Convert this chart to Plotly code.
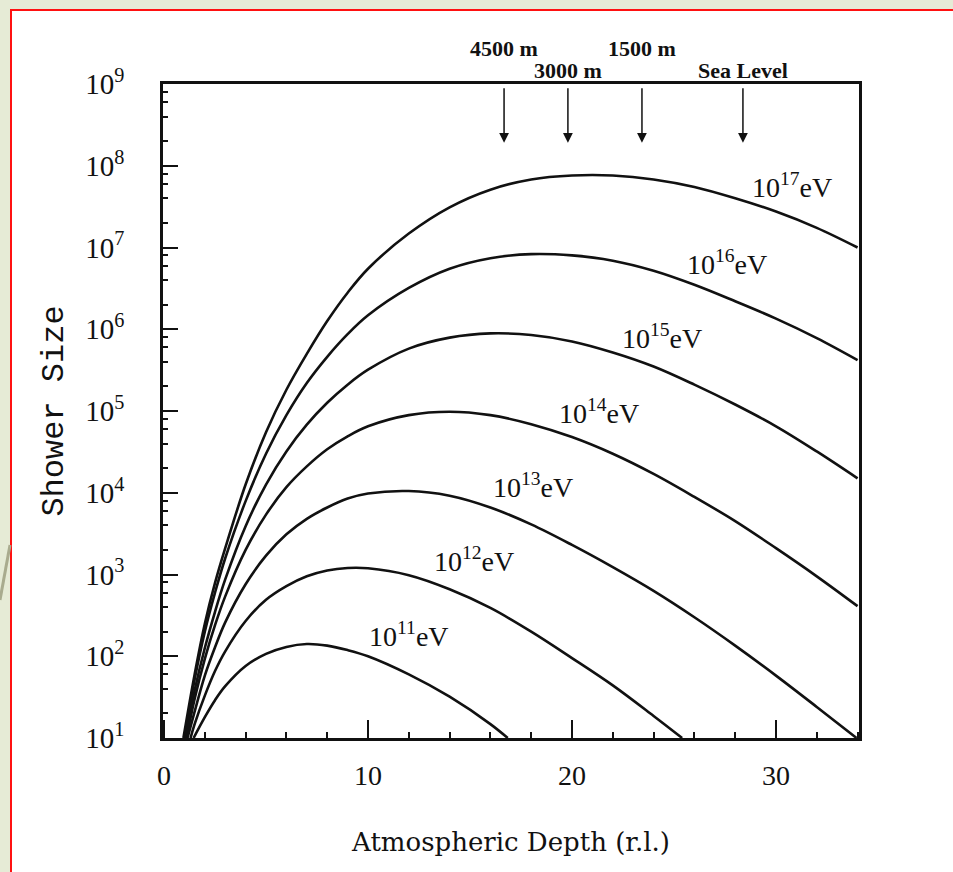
import plotly.graph_objects as go

# ---------------- data ----------------
energy_labels = ["10<sup>17</sup>eV", "10<sup>16</sup>eV", "10<sup>15</sup>eV",
                 "10<sup>14</sup>eV", "10<sup>13</sup>eV", "10<sup>12</sup>eV",
                 "10<sup>11</sup>eV"]

depth_e17 = [0.95, 1.5, 2, 2.5, 3, 4, 5, 6, 7, 8, 9, 10, 12, 14, 16, 18, 20, 22, 24, 26, 28, 30, 32, 34]
size_e17 = [1.0e1, 6.0e1, 2.5e2, 7.9e2, 2.1e3, 1.26e4, 5.5e4, 1.82e5, 5.0e5, 1.26e6, 2.8e6, 5.5e6,
            1.48e7, 3.1e7, 5.1e7, 6.8e7, 7.6e7, 7.6e7, 6.8e7, 5.5e7, 4.0e7, 2.75e7, 1.74e7, 1.0e7]

depth_e16 = [1.0, 1.5, 2, 2.5, 3, 4, 5, 6, 7, 8, 9, 10, 12, 14, 16, 18, 20, 22, 24, 26, 28, 30, 32, 34]
size_e16 = [1.0e1, 5.2e1, 2.0e2, 6.0e2, 1.58e3, 7.9e3, 3.0e4, 8.9e4, 2.2e5, 4.6e5, 8.7e5, 1.48e6,
            3.2e6, 5.5e6, 7.4e6, 8.3e6, 8.0e6, 6.9e6, 5.2e6, 3.5e6, 2.2e6, 1.35e6, 7.8e5, 4.2e5]

depth_e15 = [1.05, 1.5, 2, 2.5, 3, 4, 5, 6, 7, 8, 9, 10, 12, 14, 16, 18, 20, 22, 24, 26, 28, 30, 32, 34]
size_e15 = [1.0e1, 3.8e1, 1.26e2, 3.5e2, 8.7e2, 3.9e3, 1.26e4, 3.2e4, 6.8e4, 1.26e5, 2.1e5, 3.2e5,
            5.8e5, 7.9e5, 8.9e5, 8.5e5, 7.1e5, 5.2e5, 3.5e5, 2.1e5, 1.2e5, 6.5e4, 3.2e4, 1.5e4]

depth_e14 = [1.1, 1.5, 2, 2.5, 3, 4, 5, 6, 7, 8, 9, 10, 12, 14, 16, 18, 20, 22, 24, 26, 28, 30, 32, 34]
size_e14 = [1.0e1, 3.0e1, 9.3e1, 2.4e2, 5.4e2, 2.0e3, 5.4e3, 1.17e4, 2.1e4, 3.4e4, 4.9e4, 6.5e4,
            8.9e4, 9.8e4, 8.9e4, 6.9e4, 4.8e4, 3.0e4, 1.7e4, 8.9e3, 4.5e3, 2.1e3, 9.5e2, 4.1e2]

depth_e13 = [1.15, 1.5, 2, 2.5, 3, 4, 5, 6, 7, 8, 9, 10, 12, 14, 16, 18, 20, 22, 24, 26, 28, 30, 32, 33.95]
size_e13 = [1.0e1, 2.1e1, 5.8e1, 1.29e2, 2.6e2, 7.6e2, 1.7e3, 3.1e3, 4.8e3, 6.6e3, 8.5e3, 9.8e3,
            1.05e4, 9.2e3, 6.6e3, 4.1e3, 2.3e3, 1.23e3, 6.3e2, 3.0e2, 1.35e2, 5.8e1, 2.4e1, 1.0e1]

depth_e12 = [1.3, 1.5, 2, 2.5, 3, 4, 5, 6, 7, 8, 9, 10, 12, 14, 16, 18, 20, 22, 24, 25.4]
size_e12 = [1.0e1, 1.48e1, 3.3e1, 6.6e1, 1.15e2, 2.7e2, 4.9e2, 7.2e2, 9.5e2, 1.12e3, 1.2e3, 1.19e3,
            9.8e2, 6.6e2, 3.9e2, 2.0e2, 9.5e1, 4.4e1, 1.86e1, 1.0e1]

depth_e11 = [1.45, 2, 2.5, 3, 4, 5, 6, 7, 8, 9, 10, 12, 14, 16, 16.85]
size_e11 = [1.0e1, 1.8e1, 2.9e1, 4.3e1, 7.6e1, 1.07e2, 1.3e2, 1.41e2, 1.35e2, 1.19e2, 1.0e2, 6.0e1,
            3.2e1, 1.48e1, 1.0e1]

depths = [depth_e17, depth_e16, depth_e15, depth_e14, depth_e13, depth_e12, depth_e11]
sizes = [size_e17, size_e16, size_e15, size_e14, size_e13, size_e12, size_e11]

# altitude markers on the top axis
altitude_labels = ["4500 m", "3000 m", "1500 m", "Sea Level"]
altitude_depths = [16.67, 19.8, 23.43, 28.38]

# tick values / labels
x_tickvals = [0, 10, 20, 30]
x_ticktext = ["0", "10", "20", "30"]
x_minor = [2, 4, 6, 8, 12, 14, 16, 18, 22, 24, 26, 28, 32, 34]
y_tickvals = [1e1, 1e2, 1e3, 1e4, 1e5, 1e6, 1e7, 1e8, 1e9]
y_ticktext = ["10<sup>%d</sup>" % k for k in range(1, 10)]
y_minor = [m * d for d in [1e1, 1e2, 1e3, 1e4, 1e5, 1e6, 1e7, 1e8] for m in (2, 4, 6, 8)]

# label positions (x in depth, y in log10 of size)
label_x = [30.8, 27.6, 24.4, 21.3, 18.1, 15.2, 12.0]
label_logy = [7.76, 6.82, 5.91, 4.99, 4.09, 3.18, 2.27]

# ---------------- figure ----------------
fig = go.Figure()
for xs, ys in zip(depths, sizes):
    fig.add_trace(go.Scatter(x=xs, y=ys, mode="lines",
                             line=dict(color="#111111", width=2.6, shape="spline", smoothing=1.0),
                             hoverinfo="skip"))

serif = "Liberation Serif"

annotations = []
for txt, lx, ly in zip(energy_labels, label_x, label_logy):
    annotations.append(dict(x=lx, y=ly, xref="x", yref="y", text=txt, showarrow=False,
                            font=dict(family=serif, size=28, color="#111111")))

label_y_paper = [1.054, 1.020, 1.054, 1.020]
for txt, d, yp in zip(altitude_labels, altitude_depths, label_y_paper):
    annotations.append(dict(x=d, y=yp, xref="x", yref="paper", text="<b>%s</b>" % txt,
                            showarrow=False, yanchor="middle",
                            font=dict(family=serif, size=22, color="#111111")))
    annotations.append(dict(x=d, y=0.91, xref="x", yref="paper", text="", showarrow=True,
                            ax=0, ay=-56, arrowhead=2, arrowsize=1.3, arrowwidth=1.5,
                            arrowcolor="#111111", standoff=0))

# paper-coordinate helpers for the slide frame
L, R, T, B = 163, 859, 84, 738
def px(xp):
    return (xp - L) / (R - L)
def py(yp):
    return (B - yp) / (B - T)

shapes = [
    dict(type="rect", xref="paper", yref="paper", x0=px(11), x1=px(975), y0=py(895), y1=py(10),
         fillcolor="white", line=dict(color="#ff1111", width=2), layer="below"),
    dict(type="line", xref="paper", yref="paper", x0=px(0), y0=py(600), x1=px(10), y1=py(545),
         line=dict(color="#a9ab8e", width=3), layer="below"),
]

fig.update_layout(
    width=953, height=872,
    margin=dict(l=L, r=953 - R, t=T, b=872 - B),
    paper_bgcolor="#e6ebd6", plot_bgcolor="white",
    showlegend=False,
    annotations=annotations,
    shapes=shapes,
    xaxis=dict(range=[-0.05, 34.07], showline=True, linecolor="#111111", linewidth=2.5,
               mirror=True, ticks="inside", ticklen=18, tickwidth=1.5, tickcolor="#111111",
               tickvals=x_tickvals, ticktext=x_ticktext, showgrid=False, zeroline=False,
               tickfont=dict(family=serif, size=28, color="#111111"),
               ticklabelstandoff=11,
               minor=dict(tickvals=x_minor, ticks="inside", ticklen=6, tickwidth=1.5,
                          tickcolor="#111111", showgrid=False),
               title=dict(text="Atmospheric Depth (r.l.)", standoff=43,
                          font=dict(family="DejaVu Serif", size=26, color="#111111"))),
    yaxis=dict(type="log", range=[1, 9], showline=True, linecolor="#111111", linewidth=2.5,
               mirror=True, ticks="inside", ticklen=15, tickwidth=1.5, tickcolor="#111111",
               tickvals=y_tickvals, ticktext=y_ticktext, showgrid=False, zeroline=False,
               tickfont=dict(family=serif, size=29, color="#111111"),
               ticklabelstandoff=30,
               minor=dict(tickvals=y_minor, ticks="inside", ticklen=5, tickwidth=1.5,
                          tickcolor="#111111", showgrid=False),
               title=dict(text="Shower Size", standoff=13,
                          font=dict(family="Liberation Mono", size=32, color="#111111"))),
)

fig.write_html("out.html")
